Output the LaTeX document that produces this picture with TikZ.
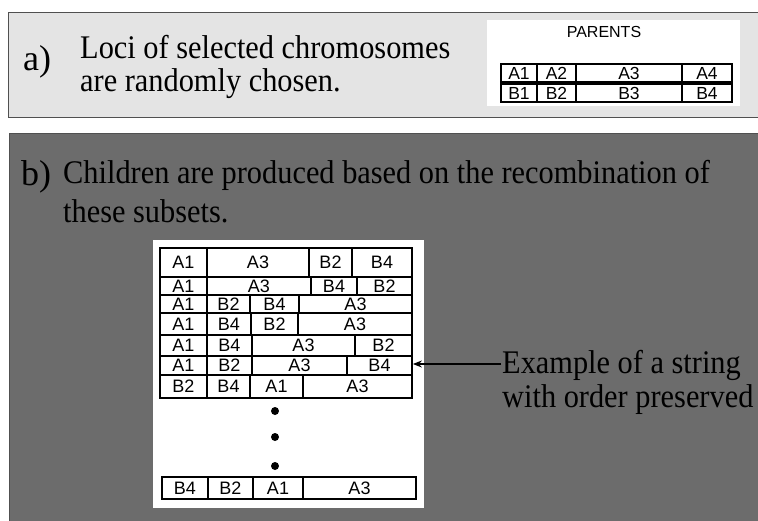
\documentclass[tikz,border=0pt]{standalone}
\usepackage{fontspec}
\setmainfont[FakeStretch=0.92]{Liberation Serif}
\newfontfamily\labelfont{Liberation Serif}
\newfontfamily\cellfont{Liberation Sans}
\usetikzlibrary{arrows.meta}
\definecolor{panelA}{HTML}{E4E4E4}
\definecolor{panelB}{HTML}{6C6C6C}
\definecolor{edgeA}{HTML}{505050}
\newcommand\cellnode[7]{\node[#7, minimum width={(#3-#2)*1pt}, minimum height={(#5-#4)*1pt}] (#1) at ({(#2+#3)/2},{(#4+#5)/2}) {#6};}
\begin{document}
\begin{tikzpicture}[x=1pt,y=-1pt,
  bigtext/.style={font=\fontsize{33}{36}\selectfont, inner sep=0pt, anchor=base west},
  labeltext/.style={font=\labelfont\fontsize{36}{40}\selectfont, inner sep=0pt, anchor=base west},
  cellbox/.style={draw, line width=1.8pt, inner sep=0pt, font=\cellfont\fontsize{18}{18}\selectfont},
  parcell/.style={draw, line width=1.9pt, inner sep=0pt, font=\cellfont\fontsize{17.5}{17.5}\selectfont},
  dot/.style={circle, fill=black, inner sep=0pt, minimum size=8pt},
  pointer/.style={-{Stealth[length=9pt,width=7pt]}, line width=1.1pt}
]
\useasboundingbox (0,0) rectangle (758,520);
\clip (0,0) rectangle (758,520);
\fill[white] (0,0) rectangle (758,520);

% panel a
\draw[fill=panelA, draw=edgeA, line width=1pt] (8,12) rectangle (770,117);
\node[labeltext] (alabel) at (23,70) {a)};
\node[bigtext] (aline1) at (80,58) {Loci of selected chromosomes};
\node[bigtext] (aline2) at (80,91) {are randomly chosen.};
\fill[white] (487,20) rectangle (740,106);
\node[font=\cellfont\fontsize{16}{16}\selectfont, inner sep=0pt] (parents) at (604,32) {PARENTS};
\cellnode{pa1}{501}{537}{64}{82}{A1}{parcell}
\cellnode{pa2}{537}{576}{64}{82}{A2}{parcell}
\cellnode{pa3}{576}{682}{64}{82}{A3}{parcell}
\cellnode{pa4}{682}{732}{64}{82}{A4}{parcell}
\cellnode{pb1}{501}{537}{84}{102}{B1}{parcell}
\cellnode{pb2}{537}{576}{84}{102}{B2}{parcell}
\cellnode{pb3}{576}{682}{84}{102}{B3}{parcell}
\cellnode{pb4}{682}{732}{84}{102}{B4}{parcell}

% panel b
\draw[fill=panelB, draw=edgeA, line width=1pt] (9,133) rectangle (770,530);
\node[labeltext] (blabel) at (21,185) {b)};
\node[bigtext] (bline1) at (63,183) {Children are produced based on the recombination of};
\node[bigtext] (bline2) at (63,222) {these subsets.};
\fill[white] (153,240) rectangle (424,508);

\cellnode{r1a}{160}{207}{248}{277}{A1}{cellbox}
\cellnode{r1b}{207}{309}{248}{277}{A3}{cellbox}
\cellnode{r1c}{309}{352}{248}{277}{B2}{cellbox}
\cellnode{r1d}{352}{412}{248}{277}{B4}{cellbox}

\cellnode{r2a}{160}{207}{277}{295}{A1}{cellbox}
\cellnode{r2b}{207}{311}{277}{295}{A3}{cellbox}
\cellnode{r2c}{311}{357}{277}{295}{B4}{cellbox}
\cellnode{r2d}{357}{412}{277}{295}{B2}{cellbox}

\cellnode{r3a}{160}{207}{295}{313}{A1}{cellbox}
\cellnode{r3b}{207}{250}{295}{313}{B2}{cellbox}
\cellnode{r3c}{250}{299}{295}{313}{B4}{cellbox}
\cellnode{r3d}{299}{412}{295}{313}{A3}{cellbox}

\cellnode{r4a}{160}{207}{313}{335}{A1}{cellbox}
\cellnode{r4b}{207}{251}{313}{335}{B4}{cellbox}
\cellnode{r4c}{251}{298}{313}{335}{B2}{cellbox}
\cellnode{r4d}{298}{412}{313}{335}{A3}{cellbox}

\cellnode{r5a}{160}{207}{335}{356}{A1}{cellbox}
\cellnode{r5b}{207}{252}{335}{356}{B4}{cellbox}
\cellnode{r5c}{252}{355}{335}{356}{A3}{cellbox}
\cellnode{r5d}{355}{412}{335}{356}{B2}{cellbox}

\cellnode{r6a}{160}{207}{356}{375}{A1}{cellbox}
\cellnode{r6b}{207}{252}{356}{375}{B2}{cellbox}
\cellnode{r6c}{252}{347}{356}{375}{A3}{cellbox}
\cellnode{r6d}{347}{412}{356}{375}{B4}{cellbox}

\cellnode{r7a}{160}{207}{375}{398}{B2}{cellbox}
\cellnode{r7b}{207}{250}{375}{398}{B4}{cellbox}
\cellnode{r7c}{250}{303}{375}{398}{A1}{cellbox}
\cellnode{r7d}{303}{412}{375}{398}{A3}{cellbox}

\node[dot] (d1) at (275,411) {};
\node[dot] (d2) at (275,437) {};
\node[dot] (d3) at (275,466) {};

\cellnode{rna}{162}{208}{477}{499}{B4}{cellbox}
\cellnode{rnb}{208}{253}{477}{499}{B2}{cellbox}
\cellnode{rnc}{253}{303}{477}{499}{A1}{cellbox}
\cellnode{rnd}{303}{416}{477}{499}{A3}{cellbox}

\node[bigtext] (ex1) at (502,373) {Example of a string};
\node[bigtext] (ex2) at (502,407) {with order preserved};
\coordinate (arrstart) at (501,364);
\draw[pointer] (arrstart) -- (arrstart -| r6d.east);
\end{tikzpicture}
\end{document}
